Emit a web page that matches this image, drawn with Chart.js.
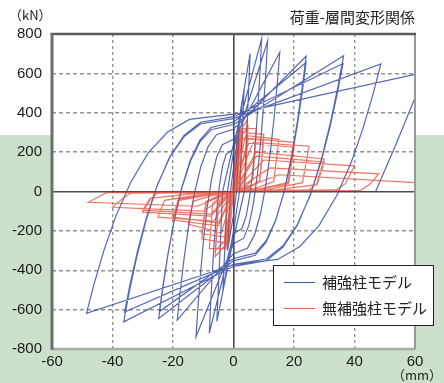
<!DOCTYPE html>
<html>
<head>
<meta charset="utf-8">
<script src="https://cdn.jsdelivr.net/npm/chart.js@4.4.1/dist/chart.umd.min.js"></script>
<style>
  html, body { margin: 0; padding: 0; }
  body { width: 444px; height: 383px; overflow: hidden;
         background: linear-gradient(to bottom, #ffffff 0px, #ffffff 135px, #cde0cc 135px, #cde0cc 383px); }
  #wrap { position: relative; width: 444px; height: 383px; }
  canvas { position: absolute; left: 0; top: 0; }
  .unit { position: absolute; font-family: "Noto Sans CJK JP", "Noto Sans", sans-serif; font-size: 13px; color: #222; white-space: nowrap; }
  #legend { position: absolute; left: 273px; top: 265px; width: 159px; height: 59px; background: #fff; border: 1px solid #222;
            font-family: "Noto Sans CJK JP", sans-serif; font-size: 15px; color: #222; }
  .item { position: absolute; left: 0; height: 20px; width: 100%; }
  .swatch { position: absolute; left: 10px; top: 9px; width: 31px; height: 0; border-top: 1.5px solid; }
  .lbl { position: absolute; left: 48px; top: -2px; white-space: nowrap; line-height: 22px; }
</style>
</head>
<body>
<div id="wrap">
  <canvas id="c" width="444" height="383"></canvas>
  <div class="unit" style="left:9px; top:5px;">（kN）</div>
  <div class="unit" style="left:392px; top:365px;">（mm）</div>
  <div id="legend">
    <div class="item" style="top:7px;"><div class="swatch" style="border-color:#2f5ea8;"></div><div class="lbl" id="l0"></div></div>
    <div class="item" style="top:33px;"><div class="swatch" style="border-color:#e2663f;"></div><div class="lbl" id="l1"></div></div>
  </div>
</div>
<script>
// ---- data (displacement in mm, load in kN) ----
const chartTitle = '荷重-層間変形関係';
const seriesNames = ['補強柱モデル', '無補強柱モデル'];
const xTicks = [-60, -40, -20, 0, 20, 40, 60];
const yTicks = [-800, -600, -400, -200, 0, 200, 400, 600, 800];

// reinforced column model (blue): displacement path
const blueDisp = [
  0,
  2.0, 1.0, 0, -2.0, -1.0, 0,
  3.5, 2.0, 0, -3.5, -2.0, 0,
  5.5, 3.6, 0, -5.5, -3.6, 0,
  9.3, 8.84, 8.18, 7.44, 6.51, 5.39, 4.19, 2.79, 0,
  -8.0, -7.6, -7.04, -6.4, -5.6, -4.64, -3.6, -2.4, 0,
  11.3, 10.74, 9.94, 9.04, 7.91, 6.55, 5.09, 3.39, 0,
  -12.4, -11.78, -10.91, -9.92, -8.68, -7.19, -5.58, -3.72, 0,
  15.3, 14.54, 13.46, 12.24, 10.71, 8.87, 6.89, 4.59, 0,
  -18.6, -17.67, -16.37, -14.88, -13.02, -10.79, -8.37, -5.58, 0,
  24, 22.8, 21.12, 19.2, 16.8, 13.92, 10.8, 7.2, 0,
  -24.7, -23.47, -21.74, -19.76, -17.29, -14.33, -11.12, -7.41, 0,
  24, 22.8, 21.12, 19.2, 16.8, 13.92, 10.8, 7.2, 0,
  -24.5, -23.28, -21.56, -19.6, -17.15, -14.21, -11.03, -7.35, 0,
  36.4, 34.58, 32.03, 29.12, 25.48, 21.11, 16.38, 10.92, 0,
  -36.3, -34.49, -31.94, -29.04, -25.41, -21.05, -16.34, -10.89, 0,
  36.2, 34.39, 31.86, 28.96, 25.34, 21.0, 16.29, 10.86, 0,
  -36.0, -34.2, -31.68, -28.8, -25.2, -20.88, -16.2, -10.8, 0,
  48.7, 46.27, 42.86, 38.96, 34.09, 28.25, 21.92, 14.61, 0,
  -48.6, -46.17, -42.77, -38.88, -34.02, -28.19, -21.87, -14.58, 0,
  63, 59.8, 54, 48.7, 47
];
// reinforced column model (blue): load path
const blueLoad = [
  0,
  330, 0, -120, -300, 0, 120,
  520, 0, -200, -500, 0, 200,
  700, 0, -240, -660, 0, 240,
  775, 633, 459, 292, 125, -22, -125, -188, -215,
  -720, -586, -422, -264, -106, 33, 130, 190, 215,
  765, 618, 436, 262, 88, -64, -171, -237, -265,
  -738, -595, -418, -249, -79, 69, 174, 238, 265,
  707, 561, 381, 208, 35, -117, -223, -288, -316,
  -653, -514, -344, -180, -16, 127, 228, 290, 316,
  687, 538, 356, 180, 4, -149, -258, -324, -352,
  -645, -502, -327, -159, 10, 158, 261, 325, 352,
  655, 513, 338, 169, 1, -146, -250, -313, -340,
  -610, -474, -307, -146, 14, 155, 254, 314, 340,
  690, 537, 349, 168, -13, -171, -283, -351, -380,
  -662, -513, -330, -154, 23, 177, 285, 352, 380,
  650, 504, 325, 152, -20, -171, -277, -343, -370,
  -612, -472, -299, -133, 33, 179, 281, 344, 370,
  648, 502, 323, 150, -22, -173, -279, -345, -372,
  -619, -474, -296, -125, 46, 196, 301, 366, 393,
  605, 469, 250, 61, 0
];

// unreinforced column model (red): displacement path
const redDisp = [
  0,
  1.5, 0.9, 0, -1.5, -0.9, 0,
  3, 2.2, 0.5, -3, -2.2, -0.5,
  3, 2.2, 0.5, -3, -2.2, -0.5,
  1.5, 4.5, 3.8, 1.5, 0, -1.5, -6, -5, -1.5, 0,
  1.5, 4.8, 4.0, 1.5, 0, -1.5, -6, -5, -1.5, 0,
  2.5, 7.5, 6.4, 3.5, 0, -2.5, -8, -6.9, -3.5, 0,
  3, 10, 8.6, 4.5, 0, -3, -10.5, -9.0, -4.5, 0,
  3, 10, 8.7, 4.5, 0, -3, -10.5, -9.1, -4.5, 0,
  4, 15, 13.3, 7, 0, -4, -15, -13.3, -7, 0,
  5, 20, 18, 9, 0, -5, -20, -18, -9, 0,
  5, 20, 18.2, 9, 0, -5, -20, -18.2, -9, 0,
  6.5, 25, 22.8, 12, 0, -6.5, -25, -22.8, -12, 0,
  7.5, 30, 27.5, 25, 0, -7.5, -30, -27.5, -25, 0,
  7.5, 30, 27.6, 14, 0, -7.5, -30, -27.6, -14, 0,
  10, 40, 37, 34, 0, -10, -40, -37, -34, 0,
  12, 48, 45, 42, 0, -12, -48, -45, -42, 0,
  15, 60, 64
];
// unreinforced column model (red): load path
const redLoad = [
  0,
  250, 40, 10, -230, -40, -10,
  330, 60, 15, -290, -60, -15,
  300, 50, 10, -270, -50, -10,
  290, 365, 70, 20, 8, -250, -330, -70, -20, -8,
  260, 330, 60, 15, 6, -230, -300, -60, -15, -6,
  320, 320, 60, 20, 8, -290, -290, -60, -20, -8,
  300, 290, 55, 18, 8, -260, -240, -55, -20, -8,
  270, 260, 50, 15, 6, -230, -215, -50, -18, -6,
  285, 265, 50, 15, 6, -210, -165, -50, -20, -6,
  270, 250, 45, 15, 5, -175, -145, -45, -20, -5,
  245, 225, 40, 12, 4, -160, -130, -40, -18, -4,
  250, 230, 45, 12, 4, -150, -130, -45, -18, -4,
  200, 165, 40, 8, 3, -125, -105, -40, -8, -3,
  180, 150, 35, 8, 3, -115, -95, -35, -12, -3,
  160, 130, 40, 8, 2, -100, -80, -40, -8, -2,
  120, 90, 35, 6, 2, -75, -55, -30, -6, -2,
  85, 45, 40
];

const toPts = (xs, ys) => xs.map((x, i) => ({ x: x, y: ys[i] }));

document.getElementById('l0').textContent = seriesNames[0];
document.getElementById('l1').textContent = seriesNames[1];

const framePlugin = {
  id: 'frame',
  beforeDraw(chart) {
    const { ctx, chartArea: a } = chart;
    ctx.save();
    ctx.fillStyle = '#ffffff';
    ctx.fillRect(a.left, a.top, a.right - a.left, a.bottom - a.top);
    ctx.restore();
  },
  afterDatasetsDraw(chart) {
    const { ctx, chartArea: a } = chart;
    ctx.save();
    const line = (x1, y1, x2, y2, c, w) => {
      ctx.beginPath(); ctx.strokeStyle = c; ctx.lineWidth = w;
      ctx.moveTo(x1, y1); ctx.lineTo(x2, y2); ctx.stroke();
    };
    line(a.left - 1, a.bottom, a.right + 1, a.bottom, '#a9a9a9', 2.5);
    line(a.right, a.top, a.right, a.bottom, '#9a9a9a', 2);
    line(a.left - 1.5, a.top, a.right + 1, a.top, '#5a5a5a', 2.5);
    line(a.left, a.top, a.left, a.bottom + 1, '#6e6e6e', 3);
    ctx.restore();
  }
};

const isZero = (c) => c && c.tick && c.tick.value === 0;
const gridColor = (c) => {
  if (!c.tick) return '#999';
  if (c.tick.value === 0) return '#4a4a4a';
  return '#949494';
};

new Chart(document.getElementById('c'), {
  type: 'scatter',
  data: {
    datasets: [
      {
        label: seriesNames[0],
        data: toPts(blueDisp, blueLoad),
        showLine: true,
        borderColor: 'rgba(55,78,168,0.85)',
        borderWidth: 1.2,
        pointRadius: 0,
        tension: 0,
        order: 2
      },
      {
        label: seriesNames[1],
        data: toPts(redDisp, redLoad),
        showLine: true,
        borderColor: 'rgba(228,64,42,0.72)',
        borderWidth: 1.2,
        pointRadius: 0,
        tension: 0,
        order: 1
      }
    ]
  },
  options: {
    responsive: false,
    animation: false,
    devicePixelRatio: 1,
    layout: { padding: { left: 0, right: 29, top: 0, bottom: 0 } },
    plugins: {
      legend: { display: false },
      tooltip: { enabled: false },
      title: {
        display: true,
        text: chartTitle,
        align: 'end',
        color: '#222',
        font: { family: '"Noto Sans CJK JP", sans-serif', size: 15, weight: 'normal' },
        padding: { top: 8, bottom: 8 }
      }
    },
    scales: {
      x: {
        type: 'linear',
        min: xTicks[0], max: xTicks[xTicks.length - 1],
        afterBuildTicks: (s) => { s.ticks = xTicks.map(v => ({ value: v })); },
        afterFit: (s) => { s.height = 34; },
        ticks: {
          padding: 4,
          color: '#1a1a1a',
          font: { family: '"Liberation Sans", Arial, sans-serif', size: 15 },
          maxRotation: 0
        },
        grid: { color: gridColor, lineWidth: (c) => isZero(c) ? 1.6 : 1.4, drawTicks: false },
        border: { display: false, dash: (c) => isZero(c) ? [] : [3, 3] }
      },
      y: {
        type: 'linear',
        min: yTicks[0], max: yTicks[yTicks.length - 1],
        afterBuildTicks: (s) => { s.ticks = yTicks.map(v => ({ value: v })); },
        afterFit: (s) => { s.width = 52; },
        ticks: {
          padding: 10,
          color: '#1a1a1a',
          font: { family: '"Liberation Sans", Arial, sans-serif', size: 15 }
        },
        grid: { color: gridColor, lineWidth: (c) => isZero(c) ? 1.6 : 1.4, drawTicks: false },
        border: { display: false, dash: (c) => isZero(c) ? [] : [4, 3] }
      }
    }
  },
  plugins: [framePlugin]
});
</script>
</body>
</html>
